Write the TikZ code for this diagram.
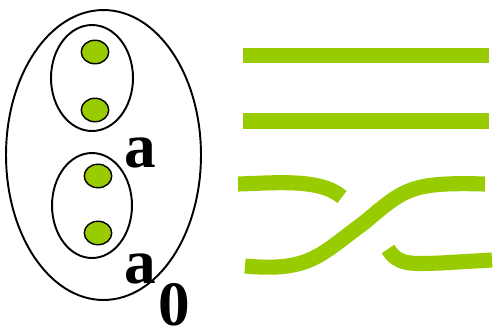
\documentclass[tikz,border=0pt]{standalone}
\usepackage{fontspec}
\setmainfont{Liberation Serif}
\usetikzlibrary{shapes.geometric}
\definecolor{leaf}{HTML}{99CC00}

\begin{document}
\begin{tikzpicture}[
    x=0.02cm, y=-0.02cm,
    % ellipses and dots
    ring/.style={ellipse, draw=black, line width=1.1pt, inner sep=0pt},
    dot/.style={ellipse, draw=black, fill=leaf, line width=0.8pt, minimum width=0.55cm, minimum height=0.47cm, inner sep=0pt},
    lbl/.style={anchor=base west, inner sep=0pt, font=\fontsize{36}{36}\selectfont\bfseries},
    strand/.style={draw=leaf, line width=8.6pt, line cap=butt}
]
    \useasboundingbox (0,0) rectangle (503,332);

    % --- Left: nested ellipses ---
    \node[ring, minimum width=3.9cm, minimum height=5.8cm] (outer) at (103.5,155) {};
    \node[ring, minimum width=1.64cm, minimum height=2.12cm] (upper) at (92,78) {};
    \node[ring, minimum width=1.6cm, minimum height=2.1cm] (lower) at (92,205.5) {};

    \node[dot] (d1) at (95,52) {};
    \node[dot] (d2) at (95,110) {};
    \node[dot] (d3) at (98,176) {};
    \node[dot] (d4) at (98,233) {};

    \node[lbl] (a1) at (124,167) {a};
    \node[lbl] (a2) at (124,283) {a};
    \node[lbl] (zero) at (158,325) {0};

    % --- Right: parallel strands ---
    \coordinate (p1) at (243,55.5);
    \coordinate (q1) at (489,55.5);
    \coordinate (p2) at (243,121);
    \coordinate (q2) at (489,121);
    \draw[strand] (p1) -- (q1);
    \draw[strand] (p2) -- (q2);

    % --- Right: crossing strands ---
    \coordinate (tl) at (238,184);
    \coordinate (tm) at (342,197);
    \coordinate (bl) at (245,266);
    \coordinate (mid) at (365,222);
    \coordinate (tr) at (485,184);
    \coordinate (bm) at (388,249);
    \coordinate (br) at (492,260);
    \draw[strand] (tl) .. controls (275,183) and (320,178) .. (tm);
    \draw[strand] (bl) .. controls (310,272) and (320,255) .. (mid)
        .. controls (405,188) and (412,182) .. (tr);
    \draw[strand] (bm) .. controls (398,265) and (410,264) .. (440,263) -- (br);

\end{tikzpicture}
\end{document}
